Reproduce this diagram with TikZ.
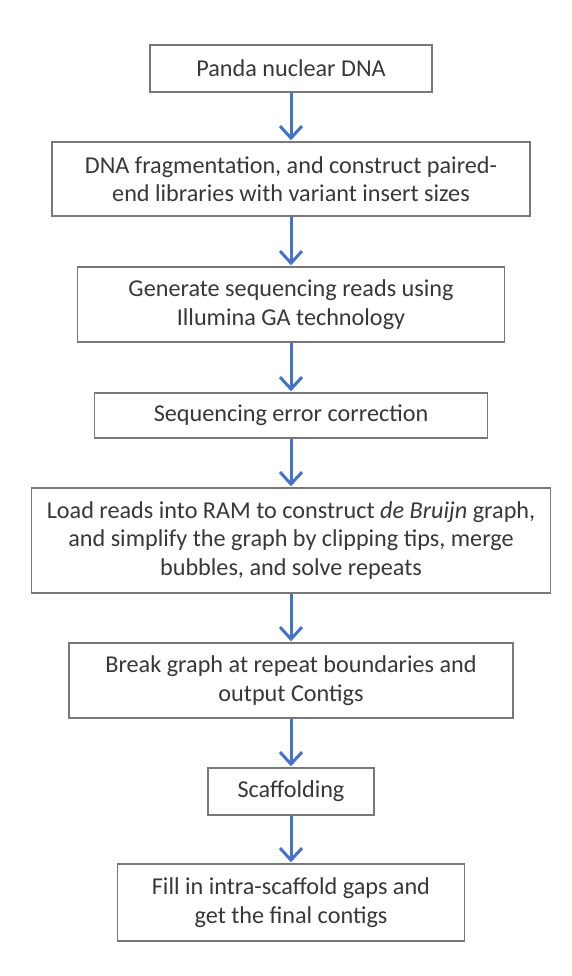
\documentclass[tikz,border=0pt]{standalone}
\usepackage{fontspec}
\setmainfont{Carlito}
\usetikzlibrary{arrows.meta}
\definecolor{boxline}{RGB}{120,120,120}
\definecolor{txt}{RGB}{56,56,56}
\definecolor{arrblue}{RGB}{68,114,196}
\tikzset{
  stepbox/.style={draw=boxline, line width=1.4pt, fill=white, text=txt,
    align=center, inner sep=0pt, font=\fontsize{24.2}{28.5}\selectfont},
  flow/.style={draw=arrblue, line width=3pt,
    -{Straight Barb[length=12pt,width=22pt,line width=3pt]}, shorten >=1pt}
}
\begin{document}
\begin{tikzpicture}[x=1pt,y=-1pt]
\useasboundingbox[fill=white] (0,0) rectangle (571,976);
\node[stepbox, minimum width=282pt, minimum height=47pt] (n1) at (291,68.5) {Panda nuclear DNA};
\node[stepbox, minimum width=478pt, minimum height=74pt] (n2) at (291,179) {DNA fragmentation, and construct paired-\\end libraries with variant insert sizes};
\node[stepbox, minimum width=427pt, minimum height=75pt] (n3) at (291,304.5) {Generate sequencing reads using\\Illumina GA technology};
\node[stepbox, minimum width=393pt, minimum height=45pt] (n4) at (291,415.5) {Sequencing error correction};
\node[stepbox, minimum width=519pt, minimum height=105pt] (n5) at (291,540.5) {Load reads into RAM to construct \textit{de Bruijn} graph,\\and simplify the graph by clipping tips, merge\\bubbles, and solve repeats};
\node[stepbox, minimum width=444pt, minimum height=75pt] (n6) at (291,680.5) {Break graph at repeat boundaries and\\output Contigs};
\node[stepbox, minimum width=166pt, minimum height=47pt] (n7) at (291,791.5) {Scaffolding};
\node[stepbox, minimum width=347pt, minimum height=77pt] (n8) at (291,902.5) {Fill in intra-scaffold gaps and\\get the final contigs};
\foreach \a/\b in {n1/n2,n2/n3,n3/n4,n4/n5,n5/n6,n6/n7,n7/n8}
  \draw[flow] (\a.south) -- (\b.north);
\end{tikzpicture}
\end{document}
